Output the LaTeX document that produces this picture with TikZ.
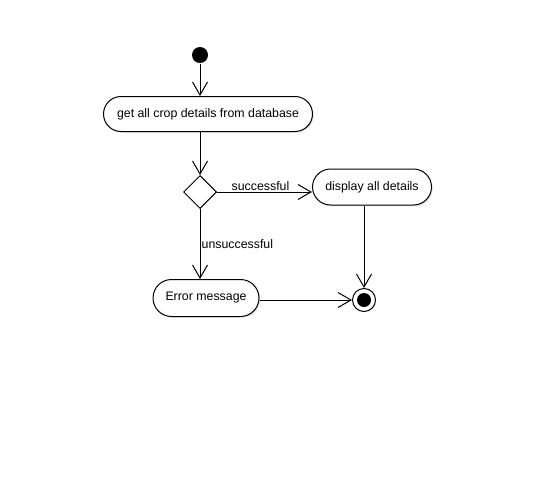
\documentclass[tikz,border=0pt]{standalone}
\usepackage{fontspec}
\setmainfont{Liberation Sans}
\usetikzlibrary{shadows}
\usetikzlibrary{positioning}
\usetikzlibrary{arrows.meta,shapes.misc,shapes.geometric}

\def\u{0.85pt}
\tikzset{
  activity/.style={draw, rounded rectangle, inner sep=0pt, fill=white,
    drop shadow={opacity=0.25, shadow xshift=1.2*\u, shadow yshift=-1.2*\u},
    font=\fontsize{10.5}{12}\selectfont},
  decision/.style={draw, diamond, inner sep=0pt, fill=white, minimum size=33*\u},
  flow/.style={-{Straight Barb[length=13*\u, width=15*\u]}},
  guard/.style={font=\fontsize{10.5}{12}\selectfont, inner sep=1pt}
}

\begin{document}
\begin{tikzpicture}[x=\u, y=-\u, line width=1*\u]
  \useasboundingbox (0,0) rectangle (535,476);
 %nodes
  \node[circle, fill=black, inner sep=0pt, minimum size=16*\u] (start) at (200,55) {};
  \node[activity, minimum width=209*\u, minimum height=35*\u] (fetch) at (208,114) {get all crop details from database};
  \node[decision] (check) at (200,192) {};
  \node[activity, minimum width=119*\u, minimum height=36*\u] (show) at (372,187) {display all details};
  \node[activity, minimum width=106*\u, minimum height=37*\u] (error) at (206,298) {Error message};
  \node[circle, draw, inner sep=0pt, minimum size=23*\u] (stop) at (364,300) {};
  \node[circle, fill=black, inner sep=0pt, minimum size=14*\u] (stopdot) at (stop) {};
 %connectors
  \draw[flow] (start.south) -- (start.south |- fetch.north);
  \draw[flow] (fetch.south -| check.north) -- (check.north);
  \draw[flow] (check.east) -- node[guard, above, xshift=-4*\u]{successful} (check.east -| show.west);
  \draw[flow] (check.south) -- node[guard, right]{unsuccessful} (check.south |- error.north);
  \draw[flow] (show.south -| stop.north) -- (stop.north);
  \draw[flow] (error.east |- stop.west) -- (stop.west);
\end{tikzpicture}
\end{document}
